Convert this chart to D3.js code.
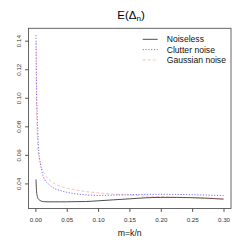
<!doctype html>
<html>
<head>
<meta charset="utf-8">
<style>
body{ margin:0; background:#ffffff; }
text{ font-family: "Liberation Sans", Arial, sans-serif; fill:#333; }
.tick text{ font-size:6.2px; }
</style>
<script src="https://d3js.org/d3.v7.min.js"></script>
</head>
<body>
<svg width="245" height="245"></svg>
<script>
// data
var mValues  = [0.001, 0.0015, 0.002, 0.003, 0.004, 0.005, 0.0075, 0.01, 0.015, 0.02, 0.03, 0.04, 0.05, 0.06, 0.08, 0.1, 0.125, 0.15, 0.175, 0.2, 0.225, 0.25, 0.275, 0.3];
var noiseless = [0.0428, 0.037, 0.034, 0.031, 0.0295, 0.029, 0.028, 0.0275, 0.0272, 0.0271, 0.0271, 0.0271, 0.0271, 0.0272, 0.0273, 0.0278, 0.0285, 0.0292, 0.0299, 0.0302, 0.0302, 0.0300, 0.0296, 0.0290];
var clutter   = [0.144, 0.122, 0.105, 0.088, 0.075, 0.066, 0.055, 0.049, 0.0425, 0.040, 0.0365, 0.0350, 0.0338, 0.0330, 0.0320, 0.0316, 0.0318, 0.0321, 0.0323, 0.0324, 0.0323, 0.0321, 0.0318, 0.0315];
var gaussian  = [0.139, 0.106, 0.090, 0.074, 0.065, 0.060, 0.055, 0.051, 0.0465, 0.0435, 0.040, 0.038, 0.0368, 0.0358, 0.0343, 0.0334, 0.0325, 0.0318, 0.0312, 0.0307, 0.0303, 0.0300, 0.0296, 0.0292];
var seriesNames = ["Noiseless", "Clutter noise", "Gaussian noise"];
var xTicks = [0, 0.05, 0.10, 0.15, 0.20, 0.25, 0.30];
var yTicks = [0.04, 0.06, 0.08, 0.10, 0.12, 0.14];

var svg = d3.select("svg");
var plotLeft = 28.5, plotRight = 231, plotTop = 28.3, plotBottom = 208.5;

// R style 4% padding around the data range
function padded(ext){ var r = ext[1] - ext[0]; return [ext[0] - 0.04*r, ext[1] + 0.04*r]; }
var x = d3.scaleLinear().domain(padded(d3.extent(mValues))).range([plotLeft, plotRight]);
var allY = noiseless.concat(clutter, gaussian);
var y = d3.scaleLinear().domain(padded(d3.extent(allY))).range([plotBottom, plotTop]);

var series = [
  {name: seriesNames[0], values: noiseless, color: "#3a3a3a", dash: null, width: 0.9},
  {name: seriesNames[1], values: clutter, color: "rgba(0,0,255,0.55)", dash: "1.2,1.6", width: 1},
  {name: seriesNames[2], values: gaussian, color: "rgba(255,60,60,0.33)", dash: "3,2", width: 1}
];

var line = d3.line()
  .x(function(d, i){ return x(mValues[i]); })
  .y(function(d){ return y(d); })
  .curve(d3.curveMonotoneX);

svg.selectAll("path.series")
  .data(series)
  .enter()
  .append("path")
  .attr("class", "series")
  .attr("fill", "none")
  .attr("stroke", function(d){ return d.color; })
  .attr("stroke-width", function(d){ return d.width; })
  .attr("stroke-dasharray", function(d){ return d.dash; })
  .attr("d", function(d){ return line(d.values); });

// box
svg.append("rect")
  .attr("x", plotLeft).attr("y", plotTop)
  .attr("width", plotRight - plotLeft).attr("height", plotBottom - plotTop)
  .attr("fill", "none").attr("stroke", "#555").attr("stroke-width", 0.9);

// axes
var xAxis = svg.append("g")
  .attr("transform", "translate(0," + plotBottom + ")")
  .call(d3.axisBottom(x).tickValues(xTicks).tickFormat(d3.format(".2f")).tickSize(3.4).tickPadding(6).tickSizeOuter(0));
xAxis.select(".domain").remove();
xAxis.selectAll("line").attr("stroke", "#555");

var yAxis = svg.append("g")
  .attr("transform", "translate(" + plotLeft + ",0)")
  .call(d3.axisLeft(y).tickValues(yTicks).tickFormat(d3.format(".2f")).tickSize(3.4).tickSizeOuter(0));
yAxis.select(".domain").remove();
yAxis.selectAll("line").attr("stroke", "#555");
yAxis.selectAll("text")
  .attr("x", null).attr("dy", null)
  .attr("text-anchor", "middle")
  .attr("transform", "translate(-7.3,0) rotate(-90)");

// title
var title = svg.append("text")
  .attr("x", 131).attr("y", 18.5)
  .attr("text-anchor", "middle")
  .attr("font-size", "11.5px")
  .style("fill", "#000");
title.append("tspan").text("E(Δ");
title.append("tspan").attr("font-size", "8px").attr("dy", 2.5).text("n");
title.append("tspan").attr("dy", -2.5).text(")");

// x label
svg.append("text")
  .attr("x", (plotLeft + plotRight) / 2).attr("y", 235.5)
  .attr("text-anchor", "middle")
  .attr("font-size", "8.7px")
  .style("fill", "#111")
  .text("m=k/n");

// legend
var legend = svg.selectAll("g.legend")
  .data(series)
  .enter()
  .append("g")
  .attr("class", "legend")
  .attr("transform", function(d, i){ return "translate(142.7," + (39.3 + i * 10.3) + ")"; });
legend.append("line")
  .attr("x1", 0).attr("x2", 15)
  .attr("stroke", function(d){ return d.color; })
  .attr("stroke-width", function(d){ return d.width; })
  .attr("stroke-dasharray", function(d){ return d.dash; });
legend.append("text")
  .attr("x", 24).attr("dy", "0.35em")
  .attr("font-size", "8.6px")
  .style("fill", "#111")
  .text(function(d){ return d.name; });
</script>
</body>
</html>
